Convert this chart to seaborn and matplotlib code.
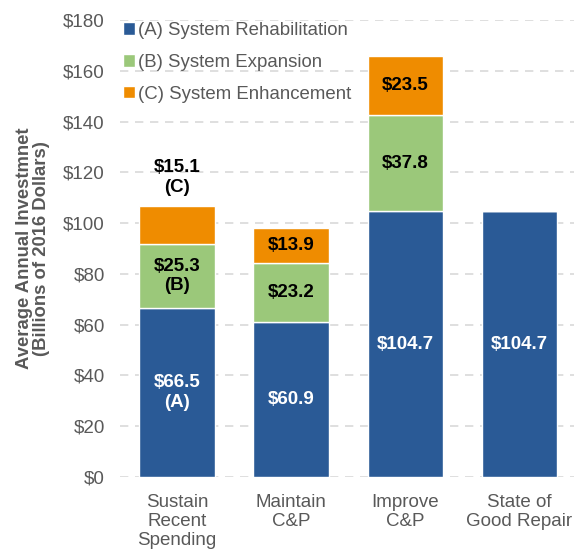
import matplotlib.pyplot as plt
import numpy as np
import seaborn as sns
import pandas as pd

# data (billions of 2016 dollars)
scenarios = ["Sustain\nRecent\nSpending", "Maintain\nC&P", "Improve\nC&P", "State of\nGood Repair"]
rehab = [66.5, 60.9, 104.7, 104.7]
expansion = [25.3, 23.2, 37.8, 0.0]
enhancement = [15.1, 13.9, 23.5, 0.0]
series_names = ["(A) System Rehabilitation", "(B) System Expansion", "(C) System Enhancement"]
y_ticks = [0, 20, 40, 60, 80, 100, 120, 140, 160, 180]

colors = ["#2A5A96", "#9BC87A", "#EF8C00"]
gray = "#595959"

sns.set_style("white")
plt.rcParams['font.family'] = ['Liberation Sans', 'DejaVu Sans']

fig = plt.figure(figsize=(5.74, 5.5), dpi=100)
ax = fig.add_axes([0.2091, 0.1327, 0.7909, 0.8309])

df = pd.DataFrame({"scenario": scenarios, "A": rehab, "B": expansion, "C": enhancement})
bottom_b = np.array(rehab)
bottom_c = bottom_b + np.array(expansion)

sns.barplot(data=df, x="scenario", y="A", color=colors[0], width=0.66,
            saturation=1, ax=ax, label=series_names[0], zorder=3)
sns.barplot(data=df, x="scenario", y="B", color=colors[1], width=0.66,
            saturation=1, ax=ax, bottom=bottom_b, label=series_names[1], zorder=3)
sns.barplot(data=df, x="scenario", y="C", color=colors[2], width=0.66,
            saturation=1, ax=ax, bottom=bottom_c, label=series_names[2], zorder=3)

# value labels
lab_kw = dict(ha="center", va="center", fontsize=13.5, fontweight="bold", linespacing=1.2)
for i in range(len(scenarios)):
    a, b, c = rehab[i], expansion[i], enhancement[i]
    if i == 0:
        ax.text(i, a / 2, f"${a:.1f}\n(A)", color="white", **lab_kw)
        ax.text(i, a + b / 2, f"${b:.1f}\n(B)", color="black", **lab_kw)
        ax.text(i, a + b + c + 11, f"${c:.1f}\n(C)", color="black", **lab_kw)
    else:
        ax.text(i, a / 2, f"${a:.1f}", color="white", **lab_kw)
        if b > 0:
            ax.text(i, a + b / 2, f"${b:.1f}", color="black", **lab_kw)
        if c > 0:
            ax.text(i, a + b + c / 2, f"${c:.1f}", color="black", **lab_kw)

ax.set_ylim(0, 180)
ax.set_xlim(-0.5, 3.48)
ax.set_yticks(y_ticks)
ax.set_yticklabels([f"${v}" for v in y_ticks])
ax.yaxis.grid(True, color="#D9D9D9", linestyle=(0, (5, 4)), linewidth=1.2, zorder=0)
ax.xaxis.grid(False)
ax.tick_params(axis="both", labelsize=13.5, colors=gray, length=0)
ax.tick_params(axis="y", pad=11)
ax.tick_params(axis="x", pad=12)
for t in ax.get_xticklabels():
    t.set_linespacing(1.18)
ax.set_xlabel("")
ax.set_ylabel("Average Annual Investmnet\n(Billions of 2016 Dollars)", fontsize=13.3,
              fontweight="bold", color=gray, labelpad=9, linespacing=1.05)
for s in ax.spines.values():
    s.set_visible(False)

ax.legend(loc="upper left", bbox_to_anchor=(-0.01, 1.012), frameon=False, fontsize=13.4,
          handlelength=0.65, handleheight=0.65, handletextpad=0.15, labelspacing=0.8,
          labelcolor=gray, borderaxespad=0.0)

fig.savefig("out.png", dpi=100)
